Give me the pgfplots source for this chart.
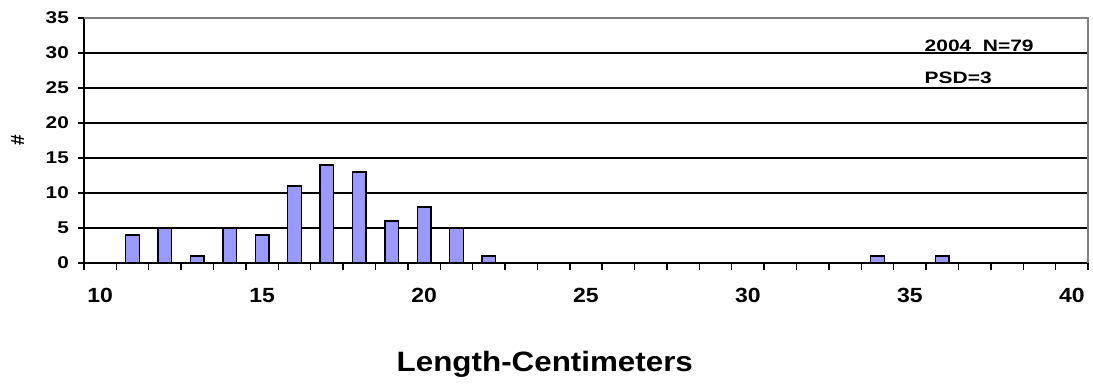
\documentclass[border=0pt]{standalone}
\usepackage{fontspec}
\setmainfont{Liberation Sans}
\usepackage{pgfplots}
\pgfplotsset{compat=1.18}
\definecolor{barblue}{RGB}{153,153,255}
\definecolor{frame}{RGB}{128,128,128}
\begin{document}
\begin{tikzpicture}[x=1pt,y=1pt]
\path[use as bounding box] (0,0) rectangle (1093,387);
\begin{axis}[
    at={(84pt,124pt)}, anchor=south west,
    scale only axis, width=1004pt, height=245pt,
    xmin=9.5, xmax=40.5, ymin=0, ymax=35,
    axis x line*=bottom, axis y line*=left,
    axis line style={black, line width=1.4pt, -},
    ytick={0,5,...,35},
    xtick={10,15,...,40},
    minor xtick={9.5,10.5,...,40.5},
    tick align=outside,
    major tick length=6pt, minor tick length=7pt,
    x tick style={draw=none},
    minor x tick style={draw=black, line width=1.4pt},
    y tick style={black, line width=1.4pt},
    ymajorgrids, major grid style={black, line width=1.4pt},
    /pgf/number format/assume math mode=true,
    yticklabel style={font=\fontsize{17}{18}\selectfont\bfseries, xscale=1.22, xshift=-4pt},
    xticklabel style={font=\fontsize{20.5}{22}\selectfont\bfseries, xscale=1.12, yshift=-16pt},
    xlabel={Length-Centimeters},
    xlabel style={font=\fontsize{28}{30}\selectfont\bfseries, xscale=1.12, at={(axis description cs:0.459,-0.413)}, anchor=center},
    ylabel={\#},
    ylabel style={font=\fontsize{19}{20}\selectfont\bfseries, at={(axis description cs:-0.066,0.502)}, anchor=center},
    clip=false,
]
\addplot[ybar, bar width=13.6pt, fill=barblue, draw=black, line width=1.4pt]
  coordinates {(11,4)(12,5)(13,1)(14,5)(15,4)(16,11)(17,14)(18,13)(19,6)(20,8)(21,5)(22,1)(34,1)(36,1)};
\draw[frame, line width=1.6pt] (rel axis cs:0,1) -- (rel axis cs:1,1) -- (rel axis cs:1,0);
\node[anchor=base west, font=\fontsize{16.5}{17}\selectfont\bfseries, xscale=1.27, inner sep=0pt] at (axis cs:35.45,30.15) {2004\ \ N=79};
\node[anchor=base west, font=\fontsize{16.5}{17}\selectfont\bfseries, xscale=1.27, inner sep=0pt] at (axis cs:35.45,25.7) {PSD=3};
\end{axis}
\end{tikzpicture}
\end{document}
